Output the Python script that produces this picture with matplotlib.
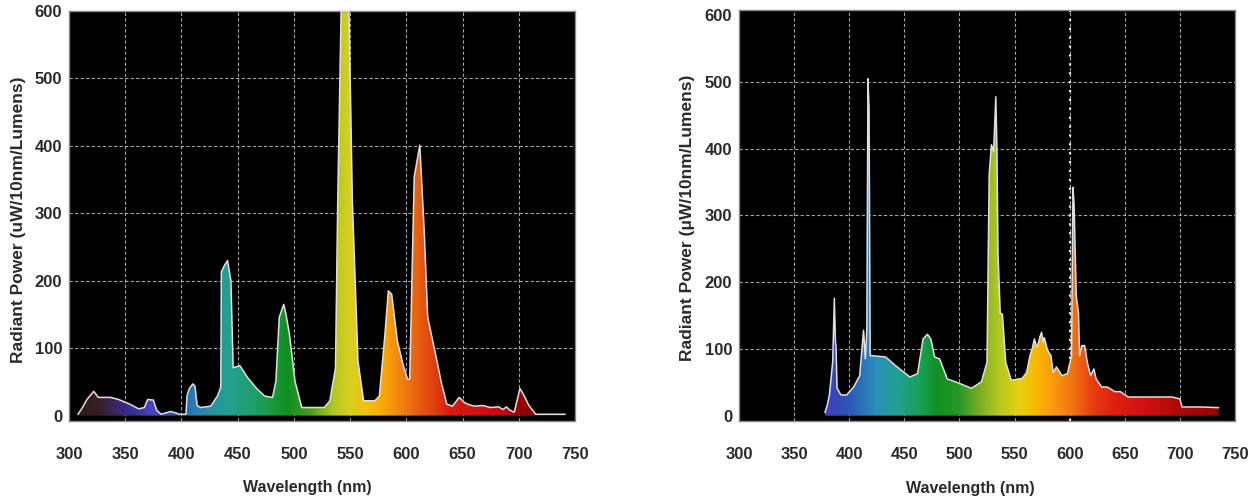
import matplotlib
matplotlib.use("Agg")
import matplotlib.pyplot as plt
from matplotlib.colors import LinearSegmentedColormap, Normalize
from matplotlib.patches import Polygon
import numpy as np

# ---- data (wavelength nm, radiant power) ----
left_wl = [308, 312, 316, 322, 326, 337, 344, 354, 362, 367, 370, 375, 378, 382, 390, 395,
           398, 404, 405, 407, 410, 412, 414, 417, 426, 432, 435, 435.5, 438, 441, 444, 446,
           452, 459, 467, 474, 481, 484, 487, 491, 493, 496, 501, 507, 527, 532, 537, 539,
           542, 549, 552, 557, 562, 572, 576, 581, 584, 587, 592, 597, 601, 603, 607, 612,
           616, 619, 626, 631, 636, 641, 647, 652, 656, 661, 668, 675, 682, 686, 689, 692,
           696, 701, 704, 709, 715, 741]
left_pw = [2, 12, 24, 36, 27, 27, 24, 17, 10, 12, 24, 23, 8, 2, 6, 4,
           2, 2, 30, 40, 47, 44, 15, 12, 14, 29, 42, 213, 222, 230, 200, 71,
           74, 56, 40, 29, 27, 51, 146, 165, 150, 121, 51, 12, 12, 22, 71, 319,
           600, 600, 319, 81, 22, 22, 29, 121, 185, 180, 111, 76, 54, 54, 354, 401,
           270, 146, 91, 50, 17, 14, 27, 19, 16, 14, 15, 12, 13, 9, 13, 8,
           5, 40, 32, 15, 2, 2]

right_wl = [378, 380, 382, 385, 386.5, 387.5, 388, 389, 392.5, 397.6, 404, 409.5, 413, 414.6,
            416, 417, 418, 419, 420, 433, 442, 455, 462, 467, 471, 474, 477.5, 482, 489, 496,
            511, 520, 525, 527, 529, 531, 533, 534, 535, 537, 539, 542, 547, 557, 561, 564,
            566, 568, 570, 571, 573, 574.5, 576, 577, 579.6, 581, 583, 585, 588, 590, 593, 598,
            601.7, 603, 604, 606, 608, 609, 611, 613.6, 616, 619, 622, 624, 629, 634, 641, 646,
            653, 670, 693, 700, 702, 705, 720, 735]
right_pw = [5, 15, 31, 80, 176, 110, 105, 41, 31, 31, 43, 60, 128, 85,
            130, 505, 460, 90, 90, 88, 75, 58, 63, 115, 122, 115, 88, 85, 55, 51,
            41, 51, 80, 362, 406, 396, 478, 401, 243, 154, 152, 80, 53, 56, 65, 90,
            100, 115, 103, 105, 118, 125, 110, 117, 100, 95, 90, 65, 73, 68, 60, 63,
            90, 342, 317, 179, 154, 90, 105, 105, 80, 60, 70, 55, 43, 43, 36, 36,
            28, 28, 28, 25, 13, 13, 13, 12]

x_ticks = [300, 350, 400, 450, 500, 550, 600, 650, 700, 750]
y_ticks = [0, 100, 200, 300, 400, 500, 600]
left_ylabel = "Radiant Power (uW/10nm/Lumens)"
right_ylabel = "Radiant Power (\u03bcW/10nm/Lumens)"
xlabel = "Wavelength (nm)"

# spectral fill colours (wavelength, colour)
left_stops = [(300, "#2a1818"), (325, "#3a1e24"), (345, "#3a2878"), (365, "#3c3aa8"),
              (375, "#4a46c8"), (398, "#3a50b0"), (408, "#2a78b0"), (422, "#2a8aa8"),
              (440, "#22a090"), (460, "#1ea070"), (480, "#1a9a40"), (495, "#109020"),
              (515, "#48a020"), (535, "#b0c820"), (550, "#d8d020"), (565, "#f0c010"),
              (575, "#f8b000"), (590, "#f59010"), (610, "#e86010"), (625, "#e04010"),
              (640, "#d81a10"), (670, "#d01010"), (690, "#b80808"), (705, "#900000"),
              (750, "#700000")]
right_stops = [(300, "#4040c0"), (378, "#4040c0"), (395, "#3050b8"), (410, "#2a70b8"),
               (425, "#2a90b8"), (445, "#20a090"), (465, "#18a050"), (480, "#109020"),
               (500, "#289828"), (520, "#80b020"), (535, "#b0c820"), (555, "#e8d010"),
               (570, "#f8b800"), (590, "#f89010"), (605, "#f07010"), (620, "#e84010"),
               (640, "#e02010"), (670, "#d01010"), (700, "#b00808"), (750, "#900000")]

TICK_FONT = ["Liberation Sans Narrow", "Liberation Sans", "DejaVu Sans"]


def spectrum_cmap(stops):
    lo, hi = stops[0][0], stops[-1][0]
    return LinearSegmentedColormap.from_list(
        "spec", [((w - lo) / (hi - lo), c) for w, c in stops])


def draw_spectrum(ax, wl, pw, stops, ytop, ylabel):
    ax.set_facecolor("black")
    ax.set_xlim(300, 750)
    ax.set_ylim(-8, ytop)

    # gradient clipped to the spectrum outline
    grad = np.linspace(300, 750, 900)[np.newaxis, :]
    im = ax.imshow(grad, extent=(300, 750, 0, 600), aspect="auto", origin="lower",
                   cmap=spectrum_cmap(stops), norm=Normalize(300, 750), zorder=2)
    verts = [(wl[0], 0)] + list(zip(wl, pw)) + [(wl[-1], 0)]
    poly = Polygon(verts, closed=True, facecolor="none", edgecolor="none")
    ax.add_patch(poly)
    im.set_clip_path(poly)
    ax.plot(wl, pw, color="#e0e0e0", lw=1.1, zorder=3)

    for x in x_ticks[1:-1]:
        ax.axvline(x, color="#cfcfcf", lw=0.8, ls=(0, (3, 2)), alpha=0.8, zorder=1)
    for y in y_ticks[1:-1]:
        ax.axhline(y, color="#cfcfcf", lw=0.8, ls=(0, (3, 2)), alpha=0.8, zorder=1)

    ax.set_xticks(x_ticks)
    ax.set_yticks(y_ticks)
    ax.tick_params(length=0, labelsize=12, labelcolor="#2a2a2a")
    ax.tick_params(axis="x", pad=19)
    ax.tick_params(axis="y", pad=5)
    for lab in ax.get_xticklabels() + ax.get_yticklabels():
        lab.set_family(TICK_FONT)
        lab.set_fontweight("bold")

    for sp in ax.spines.values():
        sp.set_color("#8a8a8a")
        sp.set_linewidth(1.0)

    ax.set_xlabel(xlabel, fontsize=11.5, fontweight="bold", color="#2a2a2a", family=TICK_FONT)
    ax.set_ylabel(ylabel, fontsize=12.5, fontweight="bold", color="#2a2a2a",
                  family=["Liberation Sans", "DejaVu Sans"])


fig = plt.figure(figsize=(12.54, 4.98), dpi=100)
ax_l = fig.add_axes([69 / 1254, 1 - 421 / 498, 506 / 1254, 410 / 498])
ax_r = fig.add_axes([739 / 1254, 1 - 421 / 498, 496 / 1254, 411 / 498])

draw_spectrum(ax_l, left_wl, left_pw, left_stops, 600, left_ylabel)
draw_spectrum(ax_r, right_wl, right_pw, right_stops, 608, right_ylabel)
ax_r.axvline(600, color="#e8e8e8", lw=1.6, ls=(0, (1, 3)), zorder=1)

ax_l.xaxis.set_label_coords(0.47, -0.145)
ax_l.yaxis.set_label_coords(-0.084, 0.49)
ax_r.xaxis.set_label_coords(0.466, -0.145)
ax_r.yaxis.set_label_coords(-0.088, 0.495)

fig.savefig("out.png", dpi=100)
plt.close(fig)
